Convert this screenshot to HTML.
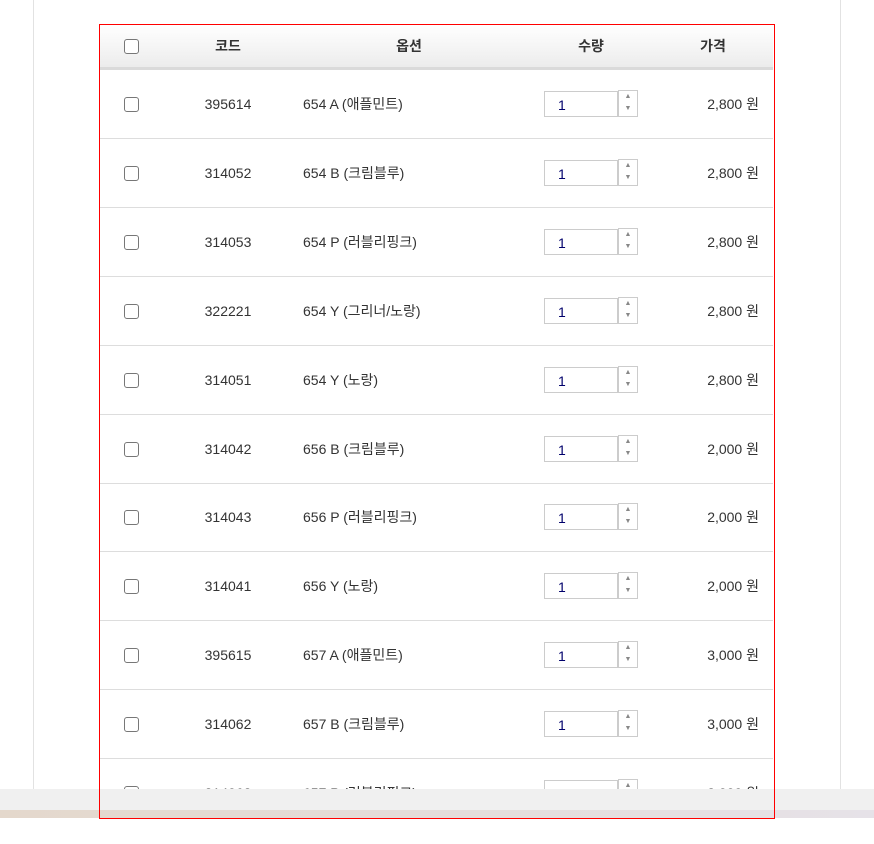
<!DOCTYPE html>
<html><head><meta charset="utf-8"><style>
body{margin:0;width:874px;height:844px;background:#fff;position:relative;overflow:hidden;font-family:"Liberation Sans","Noto Sans CJK KR",sans-serif;color:#333}
.vl{position:absolute;top:0;height:789px;width:1px;background:#e2e2e2}
#box{position:absolute;left:99px;top:24px;width:674px;height:793px;border:1px solid #f00;overflow:hidden;z-index:3;pointer-events:none}
#tbl{position:absolute;left:100px;top:25px;width:673px;height:764px;overflow:hidden}
.hd{position:absolute;left:0;top:0;width:673px;height:42px;background:linear-gradient(#fff,#ececec);border-bottom:3px solid #dadada;font-weight:bold;font-size:14px}
.hd span,.row span{position:absolute;top:50%;transform:translate(-50%,-50%);white-space:nowrap}
.cb{position:absolute;left:24px;width:13px;height:13px;border:1px solid #777;border-radius:3px;background:#fff;top:50%;margin-top:-7px}
.row{position:absolute;left:0;width:673px;height:68px;border-bottom:1px solid #ddd;font-size:14px}
.row span.opt{transform:translate(0,-50%)}
.row span.pr{transform:translate(-100%,-50%)}
.inp{position:absolute;left:444px;top:50%;margin-top:-13px;width:74px;height:26px;border:1px solid #ccc;font-size:14px;line-height:26px;padding-left:13px;box-sizing:border-box;color:#00006b}
.sp{position:absolute;left:518px;top:50%;margin-top:-14px;width:20px;height:27px;border:1px solid #ccc;box-sizing:border-box;font-size:7px;color:#888;text-align:center;line-height:12px}
.band{position:absolute;left:0;top:789px;width:874px;height:21px;background:#f0f0f0}
.band2{position:absolute;left:0;top:810px;width:874px;height:8px;background:linear-gradient(90deg,#e4d8cc,#e6e2e8)}
</style></head><body>
<div class="vl" style="left:33px"></div>
<div class="vl" style="left:840px"></div>
<div id="tbl">
<div class="hd">
<div class="cb"></div>
<span style="left:128px">코드</span>
<span style="left:309px">옵션</span>
<span style="left:491px">수량</span>
<span style="left:613px">가격</span>
</div>
<div id="rows"></div>
</div>
<div id="box"></div>
<div class="band"></div>
<div class="band2"></div>
<script>
const codes=["395614","314052","314053","322221","314051","314042","314043","314041","395615","314062","314063"];
const opts=["654 A (애플민트)","654 B (크림블루)","654 P (러블리핑크)","654 Y (그리너/노랑)","654 Y (노랑)","656 B (크림블루)","656 P (러블리핑크)","656 Y (노랑)","657 A (애플민트)","657 B (크림블루)","657 P (러블리핑크)"];
const prices=["2,800 원","2,800 원","2,800 원","2,800 원","2,800 원","2,000 원","2,000 원","2,000 원","3,000 원","3,000 원","3,000 원"];
const rows=document.getElementById('rows');
codes.forEach((c,i)=>{
 const r=document.createElement('div');r.className='row';
 
 
 r.style.top=(45+i*68.9)+'px';
 r.innerHTML='<div class="cb"></div>'+
 '<span style="left:128px">'+c+'</span>'+
 '<span class="opt" style="left:203px">'+opts[i]+'</span>'+
 '<div class="inp">1</div>'+
 '<div class="sp">▲<br>▼</div>'+
 '<span class="pr" style="left:659px">'+prices[i]+'</span>';
 rows.appendChild(r);
});
</script>
</body></html>
